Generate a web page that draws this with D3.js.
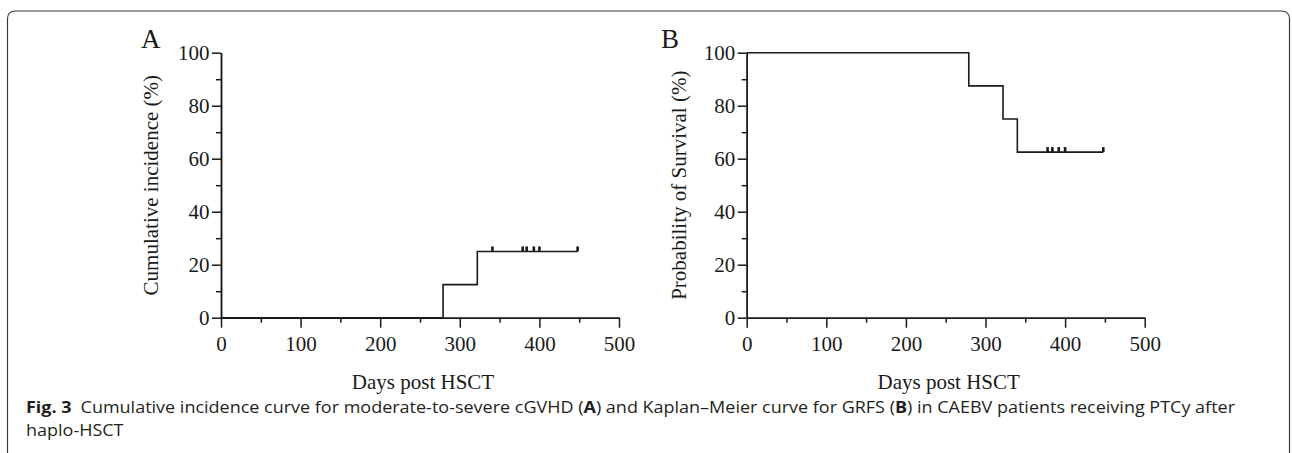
<!DOCTYPE html>
<html>
<head>
<meta charset="utf-8">
<script src="https://cdn.jsdelivr.net/npm/d3@7"></script>
<style>
  html, body { margin: 0; padding: 0; background: #fff; }
  svg { display: block; }
</style>
</head>
<body>
<svg id="chart" width="1292" height="453"></svg>
<script>
// ---- data ----
const xTicks = [0, 100, 200, 300, 400, 500];
const yTicks = [0, 20, 40, 60, 80, 100];

// Panel A: cumulative incidence of moderate-to-severe cGVHD
const timesA = [0, 279, 322, 448];
const valuesA = [0, 12.5, 25, 25];
const censorA = [341, 379, 384, 393, 400, 448];
const censorValA = 25;

// Panel B: Kaplan–Meier GRFS
const timesB = [0, 279, 322, 340, 448];
const valuesB = [100, 87.5, 75, 62.5, 62.5];
const censorB = [378, 384, 392, 400, 448];
const censorValB = 62.5;

const panelLabels = ["A", "B"];
const yTitles = ["Cumulative incidence (%)", "Probability of Survival (%)"];
const xTitle = "Days post HSCT";

// ---- layout ----
const svg = d3.select("#chart");
const serif = "'Liberation Serif', 'Times New Roman', serif";
const ink = "#1a1a1a";

// frame
svg.append("path")
  .attr("d", "M7.5,470 L7.5,19 Q7.5,11 15.5,11 L1281,11 Q1289.5,11 1289.5,19 L1289.5,470")
  .attr("fill", "none").attr("stroke", "#3a3a3a").attr("stroke-width", 1.2);

const panels = [
  { x0: 221, x1: 619, times: timesA, values: valuesA, censor: censorA, cval: censorValA,
    label: panelLabels[0], labelX: 141, yTitle: yTitles[0], yTitleX: 158 },
  { x0: 746.7, x1: 1144.7, times: timesB, values: valuesB, censor: censorB, cval: censorValB,
    label: panelLabels[1], labelX: 661, yTitle: yTitles[1], yTitleX: 686 }
];
const yTop = 52.7, yBot = 317.7;

panels.forEach(p => {
  const g = svg.append("g");
  const x = d3.scaleLinear().domain([0, 500]).range([p.x0, p.x1]);
  const y = d3.scaleLinear().domain([0, 100]).range([yBot, yTop]);

  // minor ticks
  const xMinor = d3.axisBottom(x).tickValues([50, 150, 250, 350, 450])
    .tickSize(5).tickSizeOuter(0).tickFormat("");
  const yMinor = d3.axisLeft(y).tickValues([10, 30, 50, 70, 90])
    .tickSize(5).tickSizeOuter(0).tickFormat("");
  g.append("g").attr("transform", `translate(0,${yBot})`).call(xMinor);
  g.append("g").attr("transform", `translate(${p.x0},0)`).call(yMinor);

  const xAxis = d3.axisBottom(x).tickValues(xTicks).tickSize(10).tickSizeOuter(0).tickPadding(8);
  const yAxis = d3.axisLeft(y).tickValues(yTicks).tickSize(9).tickSizeOuter(0).tickPadding(2.5);
  g.append("g").attr("transform", `translate(0,${yBot})`).call(xAxis);
  g.append("g").attr("transform", `translate(${p.x0},0)`).call(yAxis);

  g.selectAll(".domain, .tick line").attr("stroke", ink).attr("stroke-width", 1.5);
  g.selectAll(".tick text").attr("font-family", serif).attr("font-size", 21).attr("fill", ink);

  // step curve
  const pts = p.times.map((t, i) => [t, p.values[i]]);
  const line = d3.line().x(d => x(d[0])).y(d => y(d[1])).curve(d3.curveStepAfter);
  g.append("path").attr("d", line(pts)).attr("fill", "none")
    .attr("stroke", ink).attr("stroke-width", 1.6);

  // censor marks
  g.selectAll("rect.cens").data(p.censor).enter().append("rect")
    .attr("class", "cens")
    .attr("x", d => x(d) - 1.3).attr("width", 2.6)
    .attr("y", y(p.cval) - 5).attr("height", 5)
    .attr("fill", ink);

  // panel letter
  g.append("text").attr("x", p.labelX).attr("y", 48)
    .attr("font-family", serif).attr("font-size", 27).attr("fill", ink).text(p.label);

  // y title
  g.append("text")
    .attr("transform", `translate(${p.yTitleX},${(yTop + yBot) / 2}) rotate(-90)`)
    .attr("text-anchor", "middle")
    .attr("font-family", serif).attr("font-size", 21).attr("fill", ink).text(p.yTitle);

  // x title
  g.append("text").attr("x", (p.x0 + p.x1) / 2 + 3).attr("y", 389)
    .attr("text-anchor", "middle")
    .attr("font-family", serif).attr("font-size", 21).attr("fill", ink).text(xTitle);
});

// caption
const capFont = "'Open Sans', 'Noto Sans', sans-serif";
const capColor = "#231f20";
const capSize = 16;
const cap1 = svg.append("text").attr("x", 26).attr("y", 413)
  .attr("font-family", capFont).attr("font-size", capSize).attr("fill", capColor);
cap1.append("tspan").attr("font-weight", "bold").text("Fig. 3");
cap1.append("tspan").text("\u2002Cumulative incidence curve for moderate-to-severe cGVHD (");
cap1.append("tspan").attr("font-weight", "bold").text("A");
cap1.append("tspan").text(") and Kaplan\u2013Meier curve for GRFS (");
cap1.append("tspan").attr("font-weight", "bold").text("B");
cap1.append("tspan").text(") in CAEBV patients receiving PTCy after");
const cap2 = svg.append("text").attr("x", 26).attr("y", 436)
  .attr("font-family", capFont).attr("font-size", capSize).attr("fill", capColor)
  .text("haplo-HSCT");

// condense caption horizontally to the reference line length
const target = 1235 - 26;
const w1 = cap1.node().getComputedTextLength();
const ratio = target / w1;
cap1.attr("textLength", target).attr("lengthAdjust", "spacingAndGlyphs");
const w2 = cap2.node().getComputedTextLength();
cap2.attr("textLength", w2 * ratio).attr("lengthAdjust", "spacingAndGlyphs");
</script>
</body>
</html>
